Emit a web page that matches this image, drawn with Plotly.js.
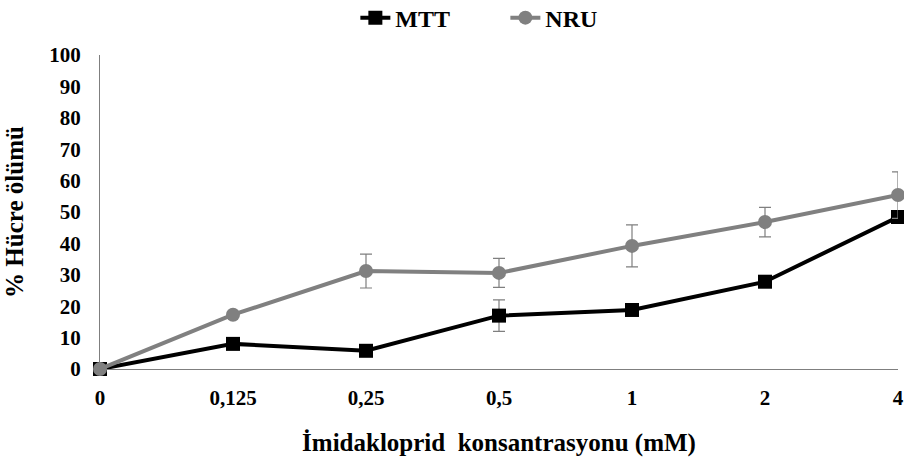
<!DOCTYPE html>
<html><head><meta charset="utf-8">
<script src="https://cdn.plot.ly/plotly-3.0.1.min.js"></script>
<style>body{margin:0;background:#fff}#c{width:904px;height:463px}</style>
</head><body><div id="c"></div>
<script>
const categories = ["0","0,125","0,25","0,5","1","2","4"];
const mttValues = [0, 8, 5.8, 17, 18.8, 27.8, 48.4];
const mttErrors = [0, 0.8, 0.8, 5, 1, 1, 1];
const nruValues = [0, 17.3, 31.2, 30.6, 39.2, 46.8, 55.4];
const nruErrors = [0, 0.8, 5.4, 4.6, 6.7, 4.7, 7.4];
const yTicks = [0,10,20,30,40,50,60,70,80,90,100];

const F = "Liberation Serif, Times New Roman, serif";
const traces = [
  {x: categories, y: mttValues, name: "MTT", type: "scatter", mode: "lines+markers",
   line: {color: "#000000", width: 4}, marker: {symbol: "square", size: 14, color: "#000000"},
   error_y: {type: "data", array: mttErrors, visible: true, color: "#7f7f7f", thickness: 1.2, width: 6},
   cliponaxis: false},
  {x: categories, y: nruValues, name: "NRU", type: "scatter", mode: "lines+markers",
   line: {color: "#808080", width: 4}, marker: {symbol: "circle", size: 14, color: "#808080"},
   error_y: {type: "data", array: nruErrors, visible: true, color: "#7f7f7f", thickness: 1.2, width: 6},
   cliponaxis: false}
];
const layout = {
  width: 904, height: 463,
  margin: {l: 100, r: 6, t: 55, b: 94},
  paper_bgcolor: "#fff", plot_bgcolor: "#fff",
  font: {family: F, color: "#000", size: 20},
  showlegend: true,
  legend: {orientation: "h", x: 0.32, xanchor: "left", y: 0.961, yanchor: "middle", yref: "container",
           entrywidth: 105, entrywidthmode: "pixels",
           font: {family: F, size: 24, color: "#000", weight: "bold"}, traceorder: "normal"},
  xaxis: {type: "category", range: [0, 6], showgrid: false, zeroline: false,
          showline: true, linecolor: "#7f7f7f", linewidth: 1, ticks: "", ticklabelstandoff: 10,
          tickfont: {family: F, size: 21, color: "#000", weight: "bold"},
          title: {text: "İmidakloprid  konsantrasyonu (mM)", font: {family: F, size: 25, color: "#000", weight: "bold"}, standoff: 24}},
  yaxis: {range: [0, 100], tickvals: yTicks, showgrid: false, zeroline: false,
          showline: true, linecolor: "#7f7f7f", linewidth: 1, ticks: "", ticklabelstandoff: 14,
          tickfont: {family: F, size: 21, color: "#000", weight: "bold"},
          title: {text: "% Hücre ölümü", font: {family: F, size: 25, color: "#000", weight: "bold"}, standoff: 18}}
};
Plotly.newPlot("c", traces, layout, {displayModeBar: false, staticPlot: true});
</script></body></html>
